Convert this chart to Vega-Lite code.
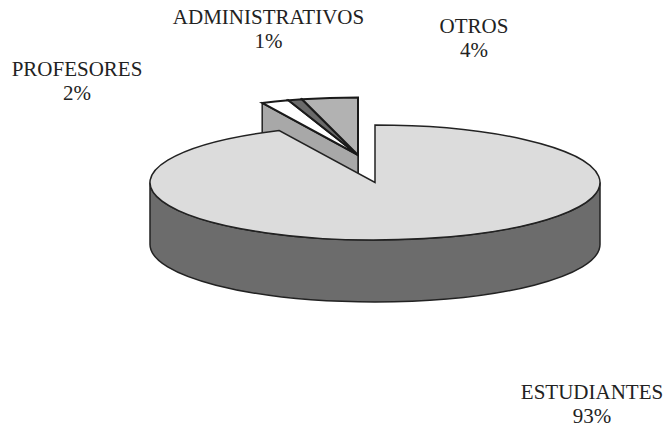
{
  "$schema": "https://vega.github.io/schema/vega-lite/v6.json",
  "width": 665,
  "height": 427,
  "autosize": {"type": "fit", "contains": "padding"},
  "background": "#ffffff",
  "config": {"view": {"stroke": null}},
  "data": {"values": [
    {"segment": "ESTUDIANTES", "value": 93, "order": 1},
    {"segment": "PROFESORES", "value": 2, "order": 2},
    {"segment": "ADMINISTRATIVOS", "value": 1, "order": 3},
    {"segment": "OTROS", "value": 4, "order": 4}
  ]},
  "transform": [
    {"stack": "value", "sort": [{"field": "order", "order": "ascending"}], "groupby": [], "as": ["v0", "v1"]},
    {"calculate": "2*PI*datum.v0/100", "as": "a0"},
    {"calculate": "2*PI*datum.v1/100", "as": "a1"},
    {"calculate": "datum.segment=='ESTUDIANTES'?42.5:25.5", "as": "cx"},
    {"calculate": "datum.segment=='ESTUDIANTES'?-31:-58.5", "as": "cy"},
    {"calculate": "datum.cx+225*sin(datum.a0)", "as": "px0"},
    {"calculate": "datum.cy-57.5*cos(datum.a0)", "as": "py0"},
    {"calculate": "datum.cx+225*sin(datum.a1)", "as": "px1"},
    {"calculate": "datum.cy-57.5*cos(datum.a1)", "as": "py1"},
    {"calculate": "'M'+datum.cx+','+datum.cy+'L'+datum.px0+','+datum.py0+'A225,57.5 0 '+(datum.a1-datum.a0>PI?1:0)+' 1 '+datum.px1+','+datum.py1+'Z'", "as": "topPath"},
    {"calculate": "'M'+datum.px0+','+datum.py0+'L'+datum.cx+','+datum.cy+'L'+datum.cx+','+(datum.cy+62)+'L'+datum.px0+','+(datum.py0+62)+'Z'", "as": "cutPath"},
    {"calculate": "'M'+(datum.cx+225)+','+datum.cy+'A225,57.5 0 0 1 '+(datum.cx-225)+','+datum.cy+'L'+(datum.cx-225)+','+(datum.cy+62)+'A225,57.5 0 0 0 '+(datum.cx+225)+','+(datum.cy+62)+'Z'", "as": "rimPath"},
    {"calculate": "datum.segment+'|'+datum.value+'%'", "as": "label"}
  ],
  "layer": [
    {
      "transform": [{"filter": "datum.segment!='ESTUDIANTES'"}],
      "mark": {"type": "point", "filled": true, "opacity": 1, "size": 4, "stroke": "#222222", "strokeWidth": 1.5},
      "encoding": {
        "shape": {"field": "cutPath", "type": "nominal", "scale": null},
        "order": {"field": "order", "sort": "descending"},
        "fill": {"field": "segment", "type": "nominal", "legend": null,
          "scale": {"domain": ["PROFESORES", "ADMINISTRATIVOS", "OTROS"], "range": ["#a8a8a8", "#444444", "#666666"]}}
      }
    },
    {
      "transform": [{"filter": "datum.segment!='ESTUDIANTES'"}],
      "mark": {"type": "point", "filled": true, "opacity": 1, "size": 4, "stroke": "#1a1a1a", "strokeWidth": 2},
      "encoding": {
        "shape": {"field": "topPath", "type": "nominal", "scale": null},
        "fill": {"field": "segment", "type": "nominal", "legend": null,
          "scale": {"domain": ["PROFESORES", "ADMINISTRATIVOS", "OTROS"], "range": ["#ffffff", "#6a6a6a", "#b2b2b2"]}}
      }
    },
    {
      "transform": [{"filter": "datum.segment=='ESTUDIANTES'"}],
      "mark": {"type": "point", "filled": true, "opacity": 1, "size": 4, "fill": "#6c6c6c", "stroke": "#222222", "strokeWidth": 1.5},
      "encoding": {"shape": {"field": "rimPath", "type": "nominal", "scale": null}}
    },
    {
      "transform": [{"filter": "datum.segment=='ESTUDIANTES'"}],
      "mark": {"type": "point", "filled": true, "opacity": 1, "size": 4, "fill": "#dcdcdc", "stroke": "#222222", "strokeWidth": 1.5},
      "encoding": {"shape": {"field": "topPath", "type": "nominal", "scale": null}}
    },
    {
      "transform": [{"filter": "datum.segment=='ADMINISTRATIVOS'"}],
      "mark": {"type": "text", "font": "Liberation Serif", "fontSize": 21, "fill": "#222222", "lineBreak": "|", "lineHeight": 24, "dx": -64, "dy": -195.5},
      "encoding": {"text": {"field": "label"}}
    },
    {
      "transform": [{"filter": "datum.segment=='OTROS'"}],
      "mark": {"type": "text", "font": "Liberation Serif", "fontSize": 21, "fill": "#222222", "lineBreak": "|", "lineHeight": 24, "dx": 141.5, "dy": -186.5},
      "encoding": {"text": {"field": "label"}}
    },
    {
      "transform": [{"filter": "datum.segment=='PROFESORES'"}],
      "mark": {"type": "text", "font": "Liberation Serif", "fontSize": 21, "fill": "#222222", "lineBreak": "|", "lineHeight": 24, "dx": -255.5, "dy": -143.5},
      "encoding": {"text": {"field": "label"}}
    },
    {
      "transform": [{"filter": "datum.segment=='ESTUDIANTES'"}],
      "mark": {"type": "text", "font": "Liberation Serif", "fontSize": 21, "fill": "#222222", "lineBreak": "|", "lineHeight": 24, "dx": 259.5, "dy": 179.5},
      "encoding": {"text": {"field": "label"}}
    }
  ],
  "resolve": {"scale": {"fill": "independent"}}
}
